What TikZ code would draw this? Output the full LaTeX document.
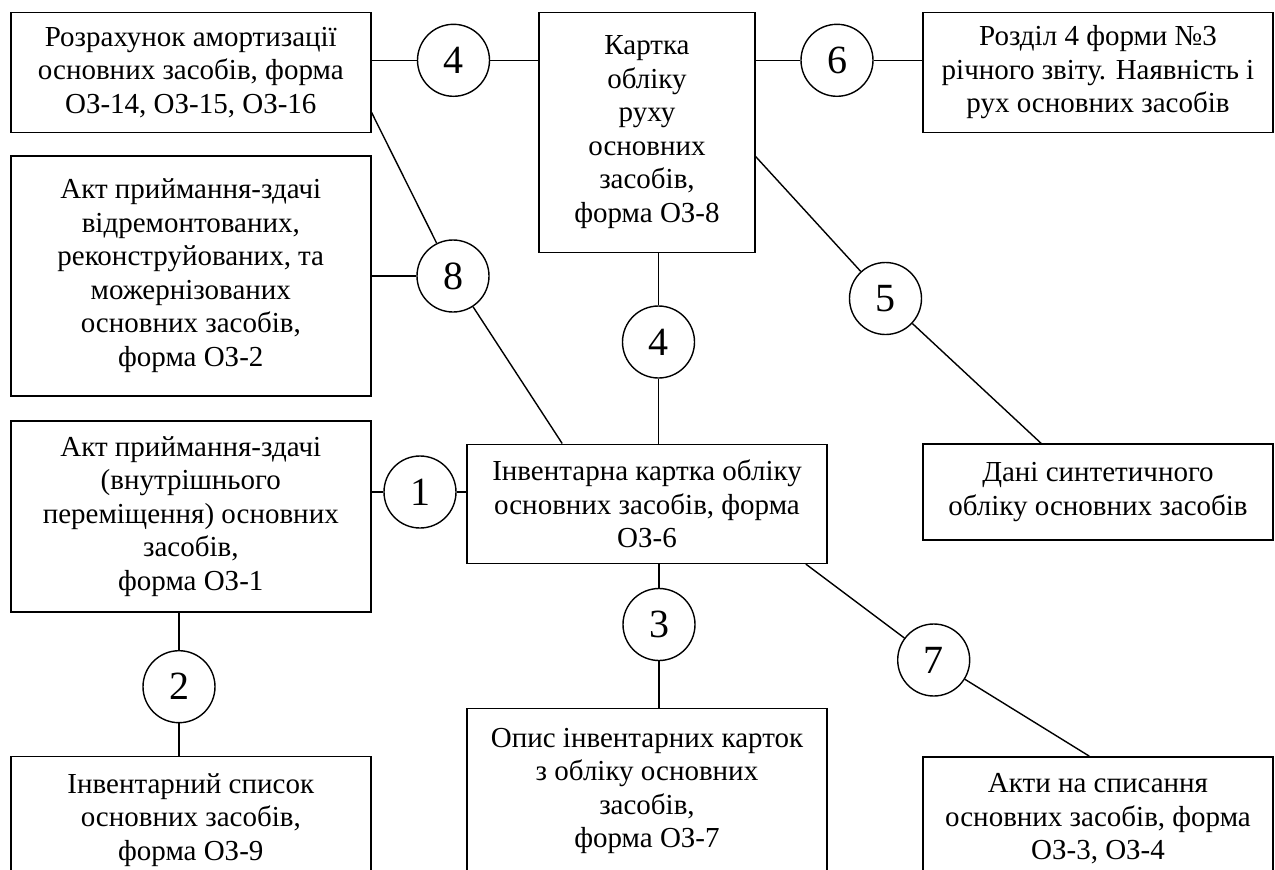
\documentclass[tikz,border=0pt]{standalone}
\usepackage{fontspec}
\setmainfont{Liberation Serif}
\usetikzlibrary{positioning,calc}

\begin{document}
\begin{tikzpicture}[
    x=1pt, y=-1pt,
    doc/.style={rectangle, draw, line width=1.6pt, align=center, inner sep=2pt, font=\fontsize{29}{33.5}\selectfont},
    num/.style={circle, draw, line width=1.4pt, minimum size=72pt, inner sep=0pt, font=\fontsize{40}{44}\selectfont},
    link/.style={line width=1.4pt}
]
\clip (0,0) rectangle (1275,870);

\node[doc, minimum width=360pt, minimum height=120pt] (amort) at (190.8,72.3) {Розрахунок амортизації\\основних засобів, форма\\ОЗ-14, ОЗ-15, ОЗ-16};
\node[doc, minimum width=216pt, minimum height=240pt] (kartka) at (647,132.3) {Картка\\обліку\\руху\\основних\\засобів,\\форма ОЗ-8};
\node[doc, minimum width=350pt, minimum height=120pt] (rozdil) at (1098,72.3) {Розділ 4 форми №3\\річного звіту. Наявність і\\рух основних засобів};
\node[doc, minimum width=360pt, minimum height=240pt] (remont) at (190.8,275.8) {Акт приймання-здачі\\відремонтованих,\\реконструйованих, та\\можернізованих\\основних засобів,\\форма ОЗ-2};
\node[doc, minimum width=360pt, minimum height=191pt] (peremish) at (190.8,516.2) {Акт приймання-здачі\\(внутрішнього\\переміщення) основних\\засобів,\\форма ОЗ-1};
\node[doc, minimum width=360pt, minimum height=119pt] (invkartka) at (647,503.8) {Інвентарна картка обліку\\основних засобів, форма\\ОЗ-6};
\node[doc, minimum width=350pt, minimum height=96pt] (syntez) at (1098,492.2) {Дані синтетичного\\обліку основних засобів};
\node[doc, minimum width=360pt, minimum height=127pt] (spysok) at (190.8,820) {Інвентарний список\\основних засобів,\\форма ОЗ-9};
\node[doc, minimum width=360pt, minimum height=165pt] (opys) at (647,790.8) {Опис інвентарних карток\\з обліку основних\\засобів,\\форма ОЗ-7};
\node[doc, minimum width=350pt, minimum height=124pt] (spysannia) at (1098,818.9) {Акти на списання\\основних засобів, форма\\ОЗ-3, ОЗ-4};

\node[num] (n4a) at (453.5,60.3) {4};
\node[num] (n6) at (837,60.3) {6};
\node[num] (n8) at (453,276) {8};
\node[num] (n4b) at (658.5,342) {4};
\node[num] (n5) at (885.5,298.5) {5};
\node[num] (n1) at (420,492) {1};
\node[num] (n3) at (659,624.5) {3};
\node[num] (n2) at (179,686.7) {2};
\node[num] (n7) at (933.7,660) {7};

\draw[link] (amort.east |- n4a) -- (n4a);
\draw[link] (n4a) -- (n4a -| kartka.west);
\draw[link] (kartka.east |- n6) -- (n6);
\draw[link] (n6) -- (n6 -| rozdil.west);
\draw[link] ([yshift=20.6pt]amort.south east) -- (n8);
\draw[link] (remont.east |- n8) -- (n8);
\draw[link] (n8) -- ([xshift=96pt]invkartka.north west);
\draw[link] (kartka.south -| n4b) -- (n4b);
\draw[link] (n4b) -- (n4b |- invkartka.north);
\draw[link] ([yshift=-24.4pt]kartka.east) -- (n5);
\draw[link] (n5) -- ([xshift=119pt]syntez.north west);
\draw[link] (peremish.east |- n1) -- (n1);
\draw[link] (n1) -- (n1 -| invkartka.west);
\draw[link] (peremish.south -| n2) -- (n2);
\draw[link] (n2) -- (n2 |- spysok.north);
\draw[link] (invkartka.south -| n3) -- (n3);
\draw[link] (n3) -- (n3 |- opys.north);
\draw[link] ([xshift=-22pt]invkartka.south east) -- (n7);
\draw[link] (n7) -- ([xshift=167pt]spysannia.north west);

\end{tikzpicture}
\end{document}
